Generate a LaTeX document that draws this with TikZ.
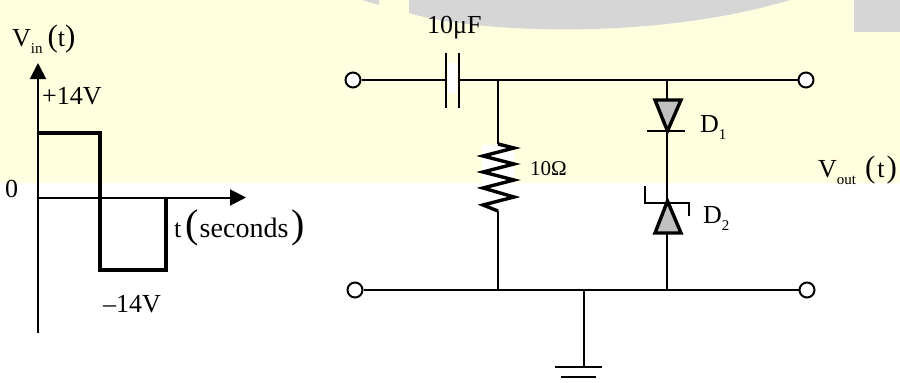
\documentclass[tikz,border=0pt]{standalone}
\usepackage{fontspec}
\setmainfont{Liberation Serif}
\usetikzlibrary{arrows.meta}
\definecolor{paper}{RGB}{255,255,224}
\definecolor{smudge}{RGB}{214,214,214}
\definecolor{diodegray}{RGB}{192,192,192}
\newcommand{\subtxt}[1]{\raisebox{-7pt}{\fontsize{15}{15}\selectfont #1}}
\newcommand{\paren}[2]{{\fontsize{#1}{#1}\selectfont #2}}
\tikzset{
    lbl/.style={anchor=base west, inner sep=0pt, font=\fontsize{26}{26}\selectfont},
    wire/.style={line width=2pt},
    axis/.style={line width=2pt, -{Triangle[length=16pt,width=16pt]}},
    wave/.style={line width=3.4pt, line join=miter},
    term/.style={circle, draw, line width=2pt, fill=white, minimum size=15pt, inner sep=0pt},
    diode/.style={line width=3.4pt, fill=diodegray, line join=miter}
}
\begin{document}
\begin{tikzpicture}[x=1pt,y=-1pt]
    \useasboundingbox (0,0) rectangle (900,383);
    % background
    \fill[paper] (0,0) rectangle (900,183);
    \fill[smudge] (362,0) -- (379,0) -- (379,5) -- cycle;
    \fill[smudge] (409,0) -- (409,13) .. controls (470,32) and (650,42) .. (790,0) -- cycle;
    \fill[smudge] (854,0) rectangle (900,32);

    % graph axes
    \coordinate (org) at (38,197.5);
    \coordinate (ybot) at (38,333);
    \coordinate (ytop) at (38,63);
    \coordinate (xend) at (246,197.5);
    \draw[axis] (ybot) -- (ytop);
    \draw[axis] (org) -- (xend);

    % input wave
    \draw[wave] (38,133) -- (100,133) -- (100,270) -- (166,270) -- (166,197.5);

    % graph labels
    \node[lbl] (vin) at (12,46) {V\subtxt{in}\hspace{5pt}\paren{31}{(}t\paren{31}{)}};
    \node[lbl] (plus) at (42,104) {+14V};
    \node[lbl] (zero) at (5,197) {0};
    \node[lbl] (minus) at (103,312) {–14V};
    \node[lbl] (tsec) at (174,237) {t\hspace{4pt}\paren{40}{(}\hspace{1pt}\paren{28}{seconds}\hspace{3pt}\paren{40}{)}};

    % wires
    \coordinate (capl) at (446,80);
    \coordinate (capr) at (459,80);
    \coordinate (jr) at (498,80);
    \coordinate (jd) at (667,80);
    \coordinate (br) at (498,290);
    \coordinate (bd) at (667,290);
    \coordinate (bg) at (584,290);
    \coordinate (rtop) at (498,144);
    \coordinate (rbot) at (498,211);
    \coordinate (gnd) at (584,367);

    \foreach \name/\x/\y in {tl/353/80, tr/806/80, bl/355/290, brt/807/290} {
        \node[term] (\name) at (\x,\y) {};
    }
    \draw[wire] (tl) -- (capl);
    \draw[wire] (capr) -- (tr);
    \draw[wire] (bl) -- (brt);
    \draw[wire] (jr) -- (rtop);
    \draw[wire] (rbot) -- (br);
    \draw[wire] (jd) -- (bd);
    \draw[wire] (bg) -- (gnd);

    % capacitor
    \fill[white] (448,63) rectangle (457,93);
    \draw[wire] (446,53) -- (446,108);
    \draw[wire] (459,53) -- (459,108);
    \node[lbl] (cap) at (427,33) {10μF};

    % resistor
    \fill[white] (482,145) rectangle (514,210);
    \draw[line width=3.4pt] (rtop) -- (514,148) -- (483,156) -- (514,164) -- (483,172)
        -- (514,180) -- (483,188) -- (514,197) -- (483,205) -- (rbot);
    \node[lbl, font=\fontsize{21}{21}\selectfont] (res) at (530,175) {10Ω};

    % diodes
    \draw[diode] (655,100) -- (681,100) -- (667.5,131) -- cycle;
    \draw[wire] (647,131) -- (685,131);
    \node[lbl] (done) at (700,132) {D\subtxt{1}};
    \draw[diode] (655,233) -- (681,233) -- (667.5,201) -- cycle;
    \draw[wire] (645,186) -- (645,203) -- (689,203) -- (689,216);
    \node[lbl] (dtwo) at (703,223) {D\subtxt{2}};

    % ground
    \draw[wire] (555,367) -- (602,367);
    \draw[wire] (561,377) -- (596,377);

    % output label
    \node[lbl] (vout) at (818,177) {V\subtxt{out}\hspace{9pt}\paren{31}{(}\hspace{2pt}t\hspace{2pt}\paren{31}{)}};
\end{tikzpicture}
\end{document}
